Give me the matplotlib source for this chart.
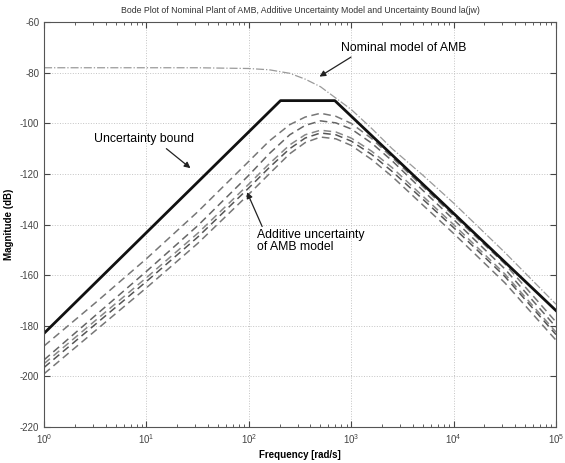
import matplotlib
matplotlib.use("Agg")
import matplotlib.pyplot as plt
from matplotlib.ticker import LogLocator, LogFormatterMathtext

plt.rcParams['font.family'] = ['Liberation Sans', 'DejaVu Sans']
plt.rcParams['axes.unicode_minus'] = False

# frequency samples (rad/s)
freq = [1, 3.16, 10, 31.6, 100, 158, 251, 355, 501, 708, 1000, 1585, 2512, 5012, 10000, 31623, 100000]

# nominal plant magnitude (dB)
nominal = [-78, -78, -78, -78, -78.3, -78.8, -80.2, -82.5, -85.5, -90.0, -94.5, -102.0, -110.0,
           -120.5, -131.5, -151.0, -171.5]

# additive uncertainty curves (dB)
unc1 = [-188, -171, -153.5, -135, -115, -107, -100.5, -97.5, -96, -97.2, -100, -106, -113.5,
        -125, -136.5, -155.5, -178.5]
unc2 = [-193.5, -176, -158.5, -140.5, -120.5, -112, -104.5, -100.8, -99, -99.8, -102.2, -107.8,
        -114.8, -126.5, -138, -157.5, -180.5]
unc3 = [-195, -178, -161, -143.5, -124, -116, -108.5, -104.5, -102.7, -103.4, -105.8, -111,
        -117.5, -128.8, -140, -159.5, -182.5]
unc4 = [-196.5, -179.5, -162.5, -145, -125.5, -117.5, -110, -105.8, -103.8, -104.5, -107, -112.3,
        -119, -130, -141.2, -160.5, -183.5]
unc5 = [-199, -182, -165, -147.5, -128, -120, -112, -107.6, -105.4, -106.1, -108.7, -114.3,
        -121, -132.3, -143.5, -163, -185.7]
uncertainty = [unc1, unc2, unc3, unc4, unc5]
unc_colors = ['#777777', '#666666', '#888888', '#555555', '#777777']

# uncertainty bound corners
bound_freq = [1, 204, 692, 100000]
bound_mag = [-183, -91, -91, -174]

fig = plt.figure(figsize=(5.65, 4.63), dpi=100)
ax = fig.add_axes([0.078, 0.078, 0.906, 0.874])

ax.semilogx(freq, nominal, color='#9a9a9a', lw=0.9, ls='-.')
for c, col in zip(uncertainty, unc_colors):
    ax.semilogx(freq, c, color=col, lw=1.1, ls=(0, (5, 3)))
ax.semilogx(bound_freq, bound_mag, color='#111111', lw=2.0)

ax.set_xlim(1, 1e5)
ax.set_ylim(-220, -60)
ax.set_yticks(range(-220, -59, 20))
ax.xaxis.set_major_locator(LogLocator(base=10))
ax.xaxis.set_major_formatter(LogFormatterMathtext())
ax.tick_params(which='both', direction='in', labelsize=7, colors='#444444', top=True, right=True)
ax.tick_params(which='major', length=4)
ax.tick_params(which='minor', length=2)
ax.grid(True, which='major', ls=':', color='#c4c4c4', lw=0.7)
for s in ax.spines.values():
    s.set_color('#555555')
    s.set_linewidth(0.8)

ax.set_title('Bode Plot of Nominal Plant of AMB, Additive Uncertainty Model and Uncertainty Bound la(jw)',
             fontsize=6.3, color='#333333', pad=7)
ax.set_xlabel('Frequency [rad/s]', fontsize=7, fontweight='bold', labelpad=3)
ax.set_ylabel('Magnitude (dB)', fontsize=7, fontweight='bold', labelpad=4)

arrow = dict(arrowstyle='-|>', color='#222222', lw=0.9, shrinkA=0, shrinkB=0)
ax.annotate('Nominal model of AMB', xy=(490, -81.5), xytext=(794, -70), fontsize=8.8,
            va='center', ha='left', arrowprops=dict(arrow, relpos=(0.08, -0.3)))
ax.annotate('Uncertainty bound', xy=(26.9, -117.7), xytext=(3.1, -106.2), fontsize=8.8,
            va='center', ha='left', arrowprops=dict(arrow, relpos=(0.72, -0.3)))
ax.annotate('Additive uncertainty\nof AMB model', xy=(96, -127.2), xytext=(120, -146.6), fontsize=8.8,
            va='center', ha='left', linespacing=1.0,
            arrowprops=dict(arrow, relpos=(0.05, 1.1)))

fig.savefig('out.png', dpi=100)
